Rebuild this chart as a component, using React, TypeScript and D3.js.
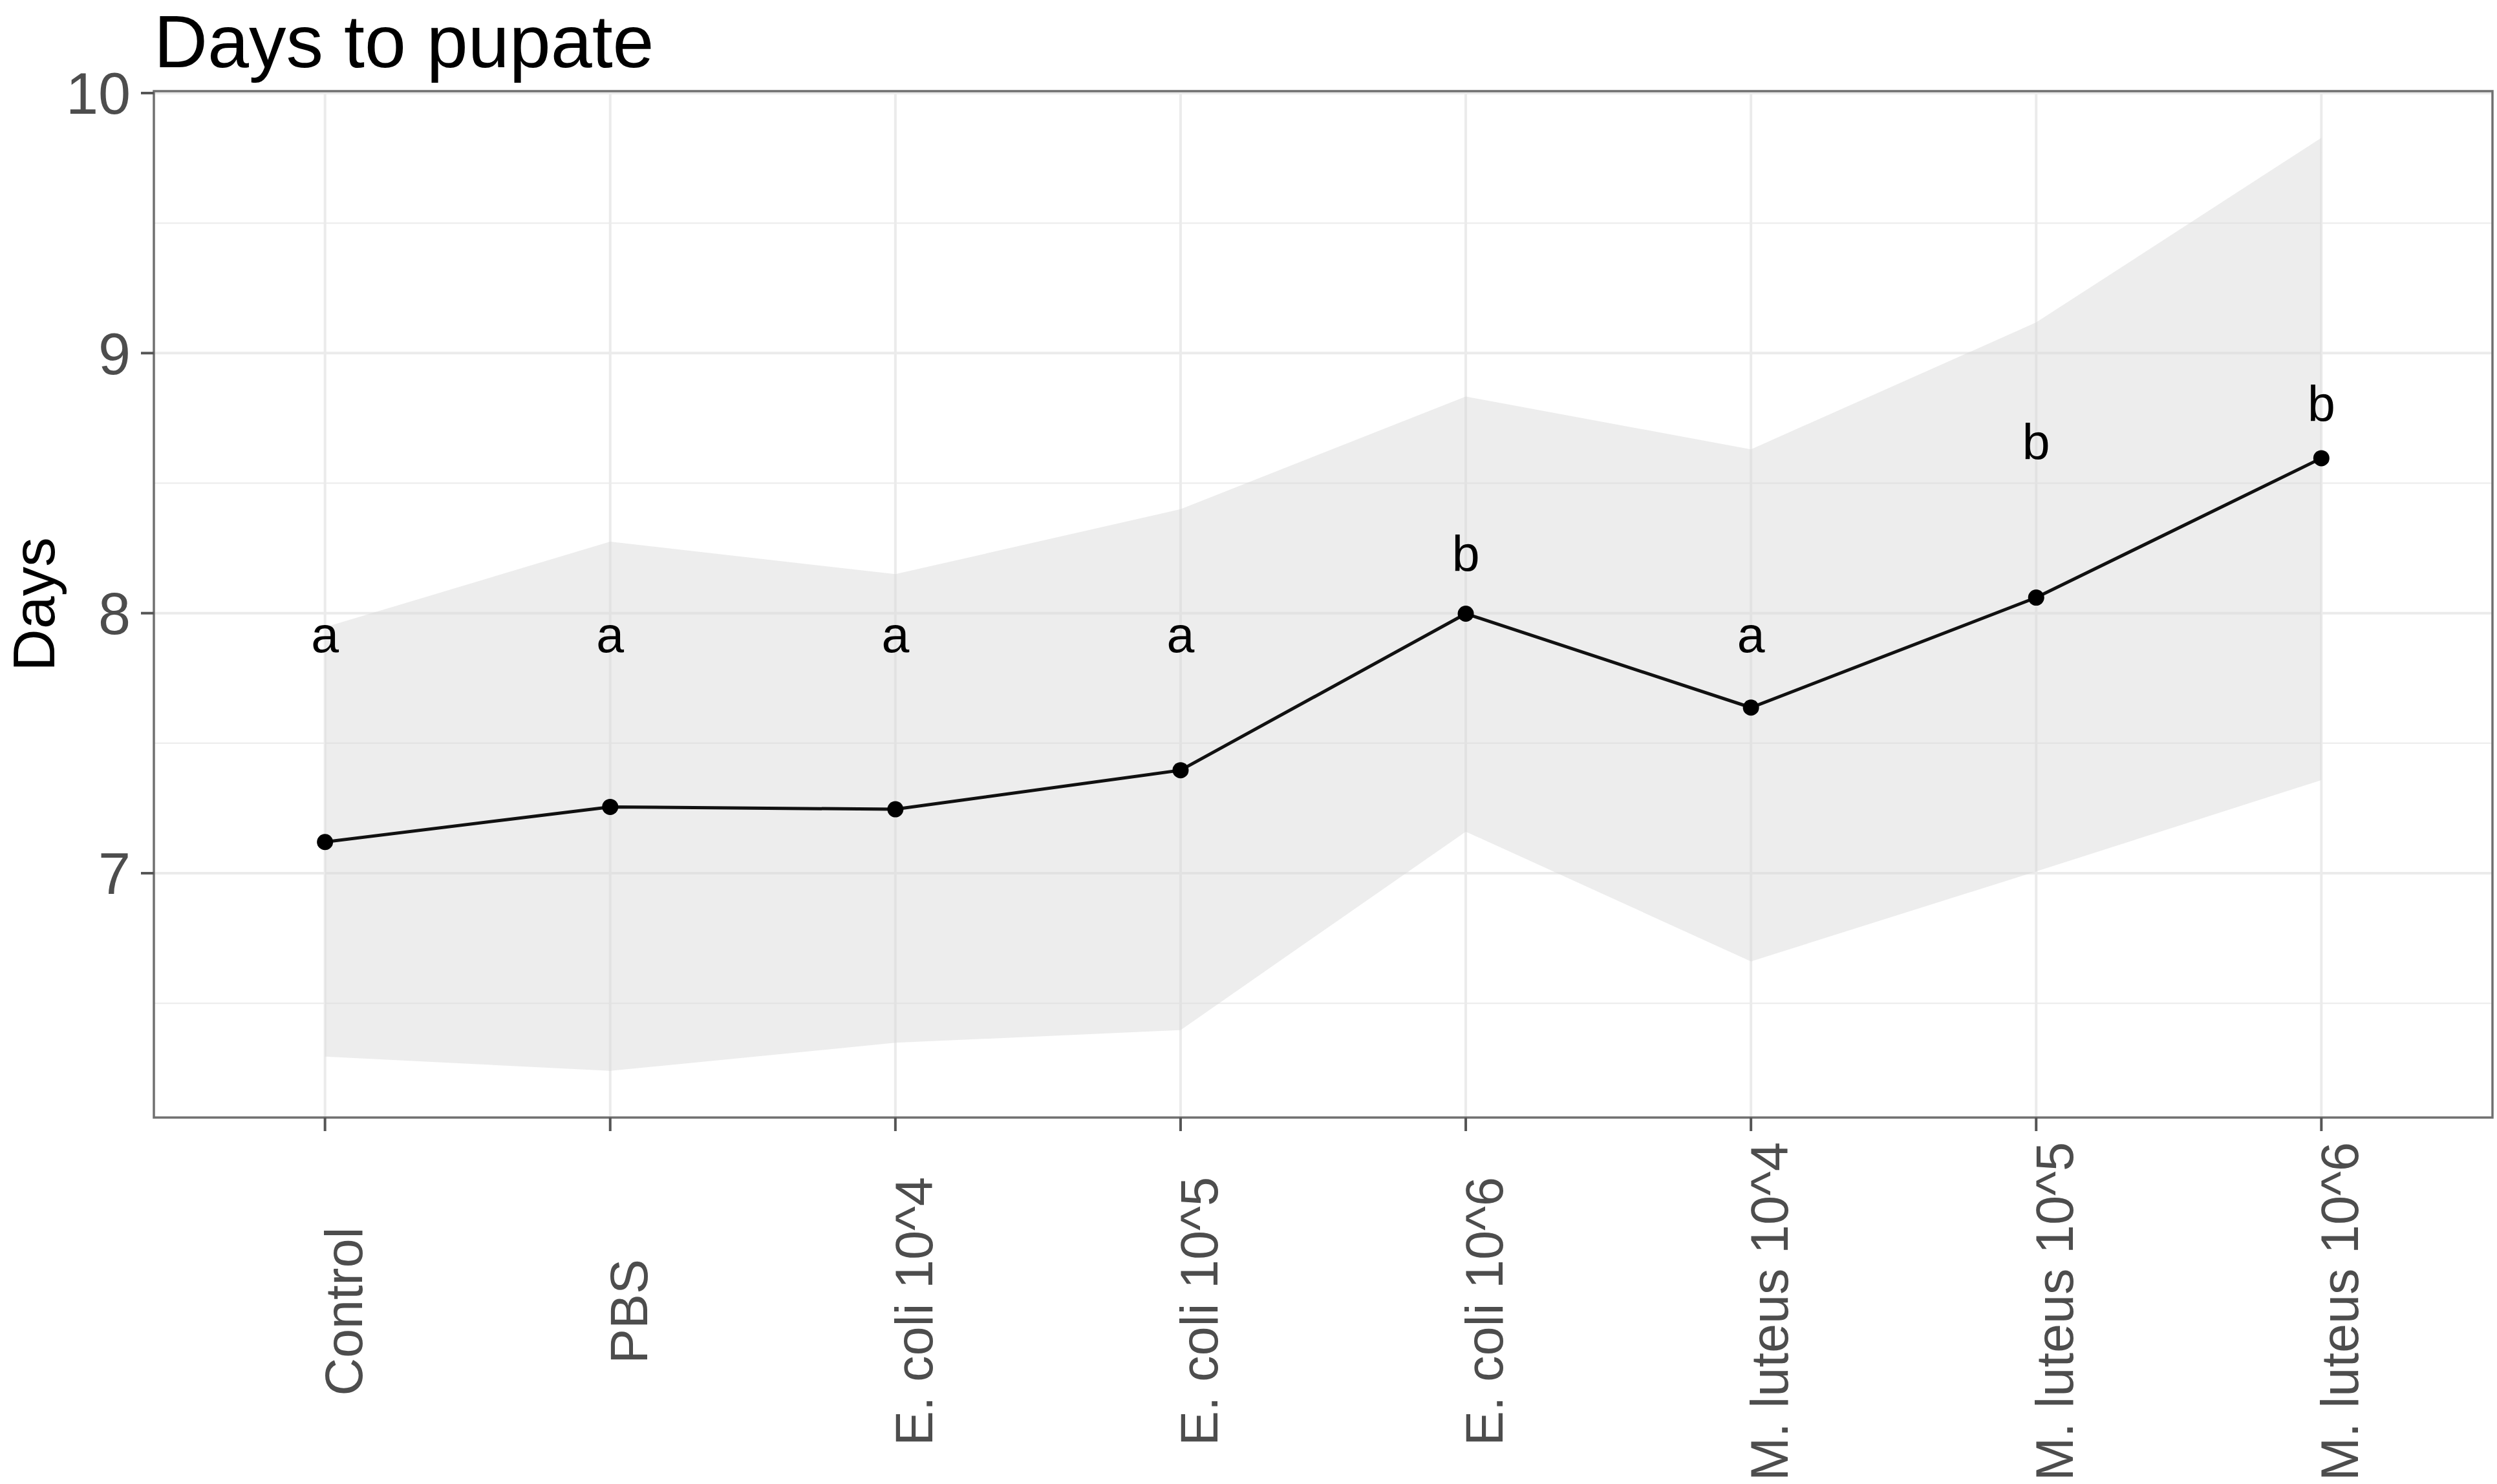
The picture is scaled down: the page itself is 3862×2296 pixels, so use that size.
import * as d3 from "d3";

// values
const categories = [
  "Control",
  "PBS",
  "E. coli 10^4",
  "E. coli 10^5",
  "E. coli 10^6",
  "M. luteus 10^4",
  "M. luteus 10^5",
  "M. luteus 10^6",
];
const means = [7.12, 7.255, 7.246, 7.396, 7.998, 7.637, 8.06, 8.596];
const upper = [7.946, 8.275, 8.15, 8.4, 8.833, 8.63, 9.118, 9.828];
const lower = [6.295, 6.24, 6.348, 6.397, 7.16, 6.661, 7.007, 7.358];
const letters = ["a", "a", "a", "a", "b", "a", "b", "b"];
const letterY = [7.849, 7.849, 7.849, 7.849, 8.16, 7.849, 8.59, 8.738];
const majorTicks = [7, 8, 9, 10];
const minorTicks = [6.5, 7.5, 8.5, 9.5];

const W = 3862;
const H = 2296;
const panel = { left: 238, right: 3855, top: 141, bottom: 1729 };
const font = "'Liberation Sans', Arial, Helvetica, sans-serif";

const App = () => {
  const rows = categories.map((c, i) => ({
    cat: c,
    mean: means[i],
    hi: upper[i],
    lo: lower[i],
    letter: letters[i],
    ly: letterY[i],
  }));

  const x = d3
    .scalePoint<string>()
    .domain(categories)
    .range([panel.left, panel.right])
    .padding(0.6);

  // ggplot-style 5% expansion around the ribbon
  const ymin = d3.min(lower)!;
  const ymax = d3.max(upper)!;
  const pad = (ymax - ymin) * 0.05;
  const y = d3
    .scaleLinear()
    .domain([ymin - pad, ymax + pad])
    .range([panel.bottom, panel.top]);

  const area = d3
    .area<(typeof rows)[number]>()
    .x((d) => x(d.cat)!)
    .y0((d) => y(d.lo))
    .y1((d) => y(d.hi));

  const line = d3
    .line<(typeof rows)[number]>()
    .x((d) => x(d.cat)!)
    .y((d) => y(d.mean));

  return (
    <svg
      width={W}
      height={H}
      style={{ position: "absolute", left: 0, top: 0, background: "#fff" }}
      fontFamily={font}
    >
      <rect width={W} height={H} fill="#fff" />

      {/* grid */}
      {minorTicks.map((t) => (
        <line
          key={"mi" + t}
          x1={panel.left}
          x2={panel.right}
          y1={y(t)}
          y2={y(t)}
          stroke="#ebebeb"
          strokeWidth={2}
        />
      ))}
      {majorTicks.map((t) => (
        <line
          key={"ma" + t}
          x1={panel.left}
          x2={panel.right}
          y1={y(t)}
          y2={y(t)}
          stroke="#ebebeb"
          strokeWidth={4}
        />
      ))}
      {categories.map((c) => (
        <line
          key={"gx" + c}
          x1={x(c)}
          x2={x(c)}
          y1={panel.top}
          y2={panel.bottom}
          stroke="#ebebeb"
          strokeWidth={4}
        />
      ))}

      {/* ribbon, line and points */}
      <path d={area(rows)!} fill="#d6d6d6" fillOpacity={0.45} />
      <path d={line(rows)!} fill="none" stroke="#111" strokeWidth={5} />
      {rows.map((d) => (
        <circle key={"p" + d.cat} cx={x(d.cat)} cy={y(d.mean)} r={12.5} fill="#000" />
      ))}
      {rows.map((d) => (
        <text
          key={"l" + d.cat}
          x={x(d.cat)}
          y={y(d.ly)}
          textAnchor="middle"
          fontSize={77}
          fill="#000"
        >
          {d.letter}
        </text>
      ))}

      {/* panel border */}
      <rect
        x={panel.left}
        y={panel.top}
        width={panel.right - panel.left}
        height={panel.bottom - panel.top}
        fill="none"
        stroke="#707070"
        strokeWidth={3.5}
      />

      {/* y axis */}
      {majorTicks.map((t) => (
        <g key={"yt" + t}>
          <line
            x1={panel.left - 20}
            x2={panel.left}
            y1={y(t)}
            y2={y(t)}
            stroke="#555"
            strokeWidth={4}
          />
          <text
            x={panel.left - 36}
            y={y(t)}
            dy="0.36em"
            textAnchor="end"
            fontSize={90}
            fill="#4d4d4d"
          >
            {t}
          </text>
        </g>
      ))}

      {/* x axis */}
      {categories.map((c) => (
        <g key={"xt" + c}>
          <line
            x1={x(c)}
            x2={x(c)}
            y1={panel.bottom}
            y2={panel.bottom + 21}
            stroke="#555"
            strokeWidth={4}
          />
          <text
            transform={`translate(${x(c)! + 57},2029) rotate(-90)`}
            textAnchor="middle"
            fontSize={81}
            fill="#4d4d4d"
          >
            {c}
          </text>
        </g>
      ))}

      {/* titles */}
      <text
        transform={`translate(84,${(panel.top + panel.bottom) / 2}) rotate(-90)`}
        textAnchor="middle"
        fontSize={91}
        fill="#000"
      >
        Days
      </text>
      <text x={panel.left} y={104} fontSize={115} fill="#000">
        Days to pupate
      </text>
    </svg>
  );
};

export default App;
